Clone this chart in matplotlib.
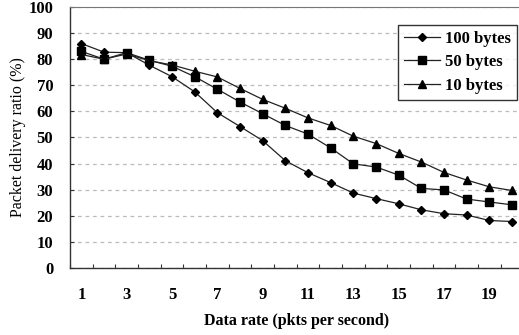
import matplotlib
matplotlib.use("Agg")
import matplotlib.pyplot as plt
import numpy as np

rates = list(range(1, 21))
b100 = [86, 82.7, 82.5, 77.7, 73.3, 67.5, 59.5, 54.2, 48.8, 41.1,
        36.5, 32.7, 28.7, 26.6, 24.6, 22.3, 20.8, 20.3, 18.2, 17.8]
b50 = [83, 80, 82.5, 79.6, 77.3, 73.3, 68.5, 63.6, 59.1, 54.6,
       51.3, 46.0, 39.9, 38.7, 35.6, 30.5, 29.9, 26.4, 25.3, 24.2]
b10 = [81.8, 80, 82, 79.4, 77.8, 75.4, 73.2, 68.8, 64.6, 61.2,
       57.5, 54.6, 50.5, 47.7, 43.9, 40.6, 36.6, 33.7, 31.1, 29.7]
labels = ["100 bytes", "50 bytes", "10 bytes"]
xlabels = [str(v) for v in range(1, 21, 2)]

plt.rcParams['font.family'] = ['Liberation Serif', 'DejaVu Serif']
plt.rcParams['font.weight'] = 'bold'

fig = plt.figure(figsize=(5.19, 3.35), dpi=100)
ax = fig.add_axes([70/519, 67/335, 453.4/519, 261/335])

lc = '#222222'
ax.plot(rates, b100, color=lc, lw=0.9, marker='D', ms=4.3, mfc='black', mec='black', label=labels[0])
ax.plot(rates, b50, color=lc, lw=0.9, marker='s', ms=5.2, mfc='black', mec='black', label=labels[1])
ax.plot(rates, b10, color=lc, lw=0.9, marker='^', ms=5.8, mfc='black', mec='black', label=labels[2])

ax.set_xlim(0.5, 20.5)
ax.set_ylim(0, 100)
ax.set_yticks(np.arange(0, 101, 10))
ax.yaxis.grid(True, ls=(0, (3, 3)), color='#bbbbbb', lw=0.9)
ax.set_axisbelow(True)
ax.set_xticks(np.arange(1, 21, 2))
ax.set_xticklabels(xlabels)
ax.set_xticks(np.arange(0.5, 21, 1), minor=True)
ax.tick_params(axis='x', which='major', length=0, pad=14, labelsize=12)
ax.tick_params(axis='x', which='minor', direction='in', length=3, width=0.8, color='#333333')
ax.tick_params(axis='y', direction='in', length=3, width=0.8, color='#333333', labelsize=12, pad=12)
for s in ['left', 'bottom']:
    ax.spines[s].set_color('#333333')
    ax.spines[s].set_linewidth(1.0)
ax.spines['top'].set_color('#777777')
ax.spines['right'].set_visible(False)

ax.set_xlabel('Data rate (pkts per second)', fontsize=11.5, fontweight='bold', labelpad=7)
ax.set_ylabel('Packet delivery ratio (%)', fontsize=11.5, fontweight='normal', labelpad=2)

leg = ax.legend(loc='upper right', bbox_to_anchor=(517/519, 1 - 25/335), bbox_transform=fig.transFigure,
                borderaxespad=0, frameon=True, fancybox=False, edgecolor='black', fontsize=12,
                handlelength=2.2, borderpad=0.35, labelspacing=0.45, handletextpad=0.3)
leg.get_frame().set_linewidth(1.0)

fig.savefig('out.png', dpi=100)
